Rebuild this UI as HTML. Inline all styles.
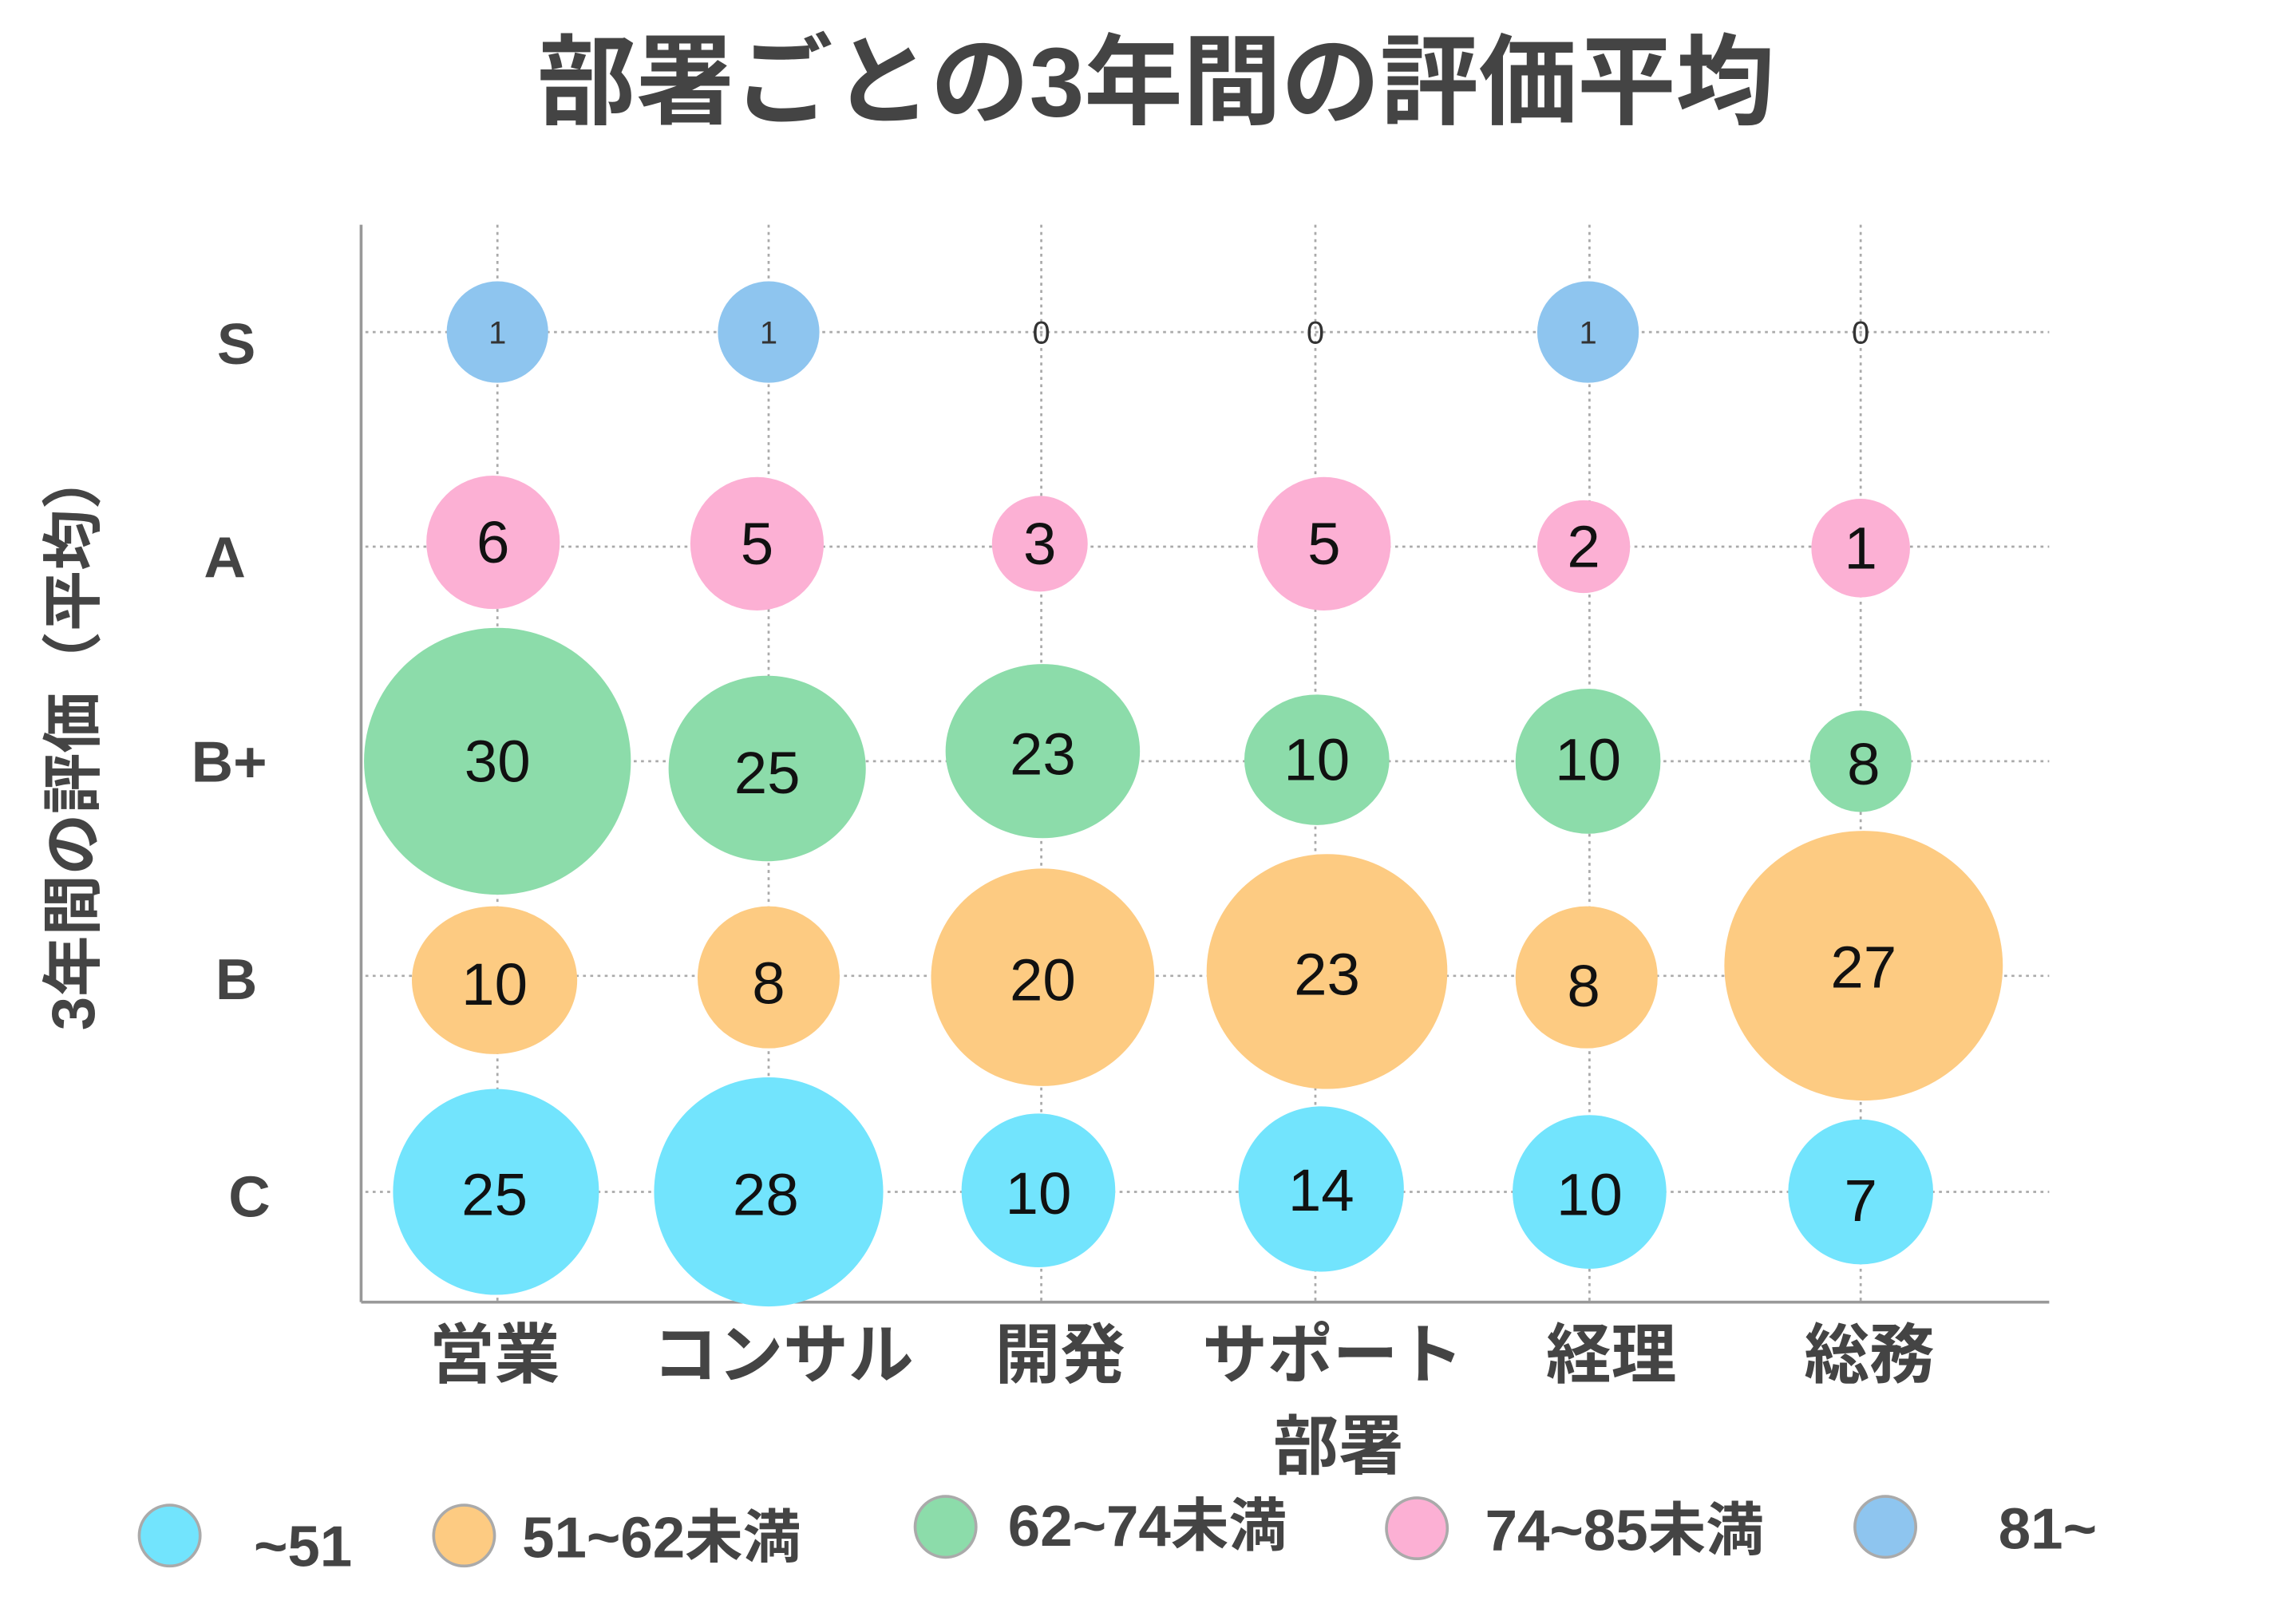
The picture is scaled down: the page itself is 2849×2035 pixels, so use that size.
<!DOCTYPE html>
<html><head><meta charset="utf-8"><style>
html,body{margin:0;padding:0;background:#fff;}
svg{display:block;}
text{font-family:"Liberation Sans","Noto Sans CJK JP",sans-serif;}
.b{font-weight:bold;fill:#444;}
.n{font-size:41px;fill:#111;text-anchor:middle;}
.s{font-size:22px;fill:#333;text-anchor:middle;}
</style></head><body>
<svg width="2849" height="2035" viewBox="0 0 1568 1120" preserveAspectRatio="none" xmlns="http://www.w3.org/2000/svg">
<text x="797" y="80" class="b" font-size="68" text-anchor="middle" fill="#555">部署ごとの3年間の評価平均</text>
<g stroke="#aaa" stroke-width="1.5" stroke-dasharray="2,3">
<line x1="252" y1="229" x2="1413" y2="229"/><line x1="252" y1="377" x2="1413" y2="377"/>
<line x1="252" y1="525" x2="1413" y2="525"/><line x1="252" y1="673" x2="1413" y2="673"/>
<line x1="252" y1="822" x2="1413" y2="822"/>
<line x1="343" y1="155" x2="343" y2="898"/><line x1="530" y1="155" x2="530" y2="898"/>
<line x1="718" y1="155" x2="718" y2="898"/><line x1="907" y1="155" x2="907" y2="898"/>
<line x1="1096" y1="155" x2="1096" y2="898"/><line x1="1283" y1="155" x2="1283" y2="898"/>
</g>
<g stroke="#999" stroke-width="2"><line x1="249" y1="155" x2="249" y2="898"/><line x1="249" y1="898" x2="1413" y2="898"/></g>
<g class="b" font-size="40" text-anchor="middle">
<text x="163" y="251">S</text><text x="155" y="398">A</text><text x="158" y="539">B+</text>
<text x="163" y="689">B</text><text x="172" y="839">C</text>
</g>
<g class="b" font-size="45" text-anchor="middle">
<text x="341" y="950">営業</text><text x="540" y="950">コンサル</text><text x="731" y="950">開発</text>
<text x="919" y="950">サポート</text><text x="1111" y="950">経理</text><text x="1289" y="950">総務</text>
<text x="923" y="1013">部署</text>
</g>
<text class="b" font-size="42" text-anchor="middle" transform="translate(65,510) rotate(-90)">3年間の評価（平均）</text>
<g fill="#8ec5ef"><circle cx="343" cy="229" r="35"/><circle cx="530" cy="229" r="35"/><circle cx="1095" cy="229" r="35"/></g>
<g class="s"><text x="343" y="237">1</text><text x="530" y="237">1</text><text x="1095" y="237">1</text>
<text x="718" y="237">0</text><text x="907" y="237">0</text><text x="1283" y="237">0</text></g>
<g fill="#fcb0d4"><circle cx="340" cy="374" r="46"/><circle cx="522" cy="375" r="46"/><circle cx="717" cy="375" r="33"/><circle cx="913" cy="375" r="46"/><circle cx="1092" cy="377" r="32"/><circle cx="1283" cy="378" r="34"/></g>
<g fill="#8cdcaa"><circle cx="343" cy="525" r="92"/><ellipse cx="529" cy="530" rx="68" ry="64"/><ellipse cx="719" cy="518" rx="67" ry="60"/><ellipse cx="908" cy="524" rx="50" ry="45"/><circle cx="1095" cy="525" r="50"/><circle cx="1283" cy="525" r="35"/></g>
<g fill="#fdcb82"><ellipse cx="341" cy="676" rx="57" ry="51"/><circle cx="530" cy="674" r="49"/><ellipse cx="719" cy="674" rx="77" ry="75"/><ellipse cx="915" cy="670" rx="83" ry="81"/><circle cx="1094" cy="674" r="49"/><ellipse cx="1285" cy="666" rx="96" ry="93"/></g>
<g fill="#72e4fd"><circle cx="342" cy="822" r="71"/><circle cx="530" cy="822" r="79"/><circle cx="716" cy="821" r="53"/><circle cx="911" cy="820" r="57"/><circle cx="1096" cy="822" r="53"/><circle cx="1283" cy="822" r="50"/></g>
<g class="n">
<text x="340" y="388">6</text><text x="522" y="389">5</text><text x="717" y="389">3</text><text x="913" y="389">5</text><text x="1092" y="391">2</text><text x="1283" y="392">1</text>
<text x="343" y="539">30</text><text x="529" y="547">25</text><text x="719" y="534">23</text><text x="908" y="538">10</text><text x="1095" y="538">10</text><text x="1285" y="541">8</text>
<text x="341" y="693">10</text><text x="530" y="692">8</text><text x="719" y="690">20</text><text x="915" y="686">23</text><text x="1092" y="694">8</text><text x="1285" y="681">27</text>
<text x="341" y="838">25</text><text x="528" y="838">28</text><text x="716" y="837">10</text><text x="911" y="835">14</text><text x="1096" y="838">10</text><text x="1283" y="842">7</text>
</g>
<g stroke="#aaa" stroke-width="2">
<circle cx="117" cy="1059" r="21" fill="#72e4fd"/><circle cx="320" cy="1059" r="21" fill="#fdcb82"/>
<circle cx="652" cy="1053" r="21" fill="#8cdcaa"/><circle cx="977" cy="1054" r="21" fill="#fcb0d4"/>
<circle cx="1300" cy="1053" r="21" fill="#8ec5ef"/></g>
<g class="b" font-size="40">
<text x="175" y="1080">~51</text><text x="360" y="1074">51~62未満</text><text x="695" y="1066">62~74未満</text>
<text x="1024" y="1069">74~85未満</text><text x="1378" y="1068">81~</text></g>
</svg>
</body></html>
